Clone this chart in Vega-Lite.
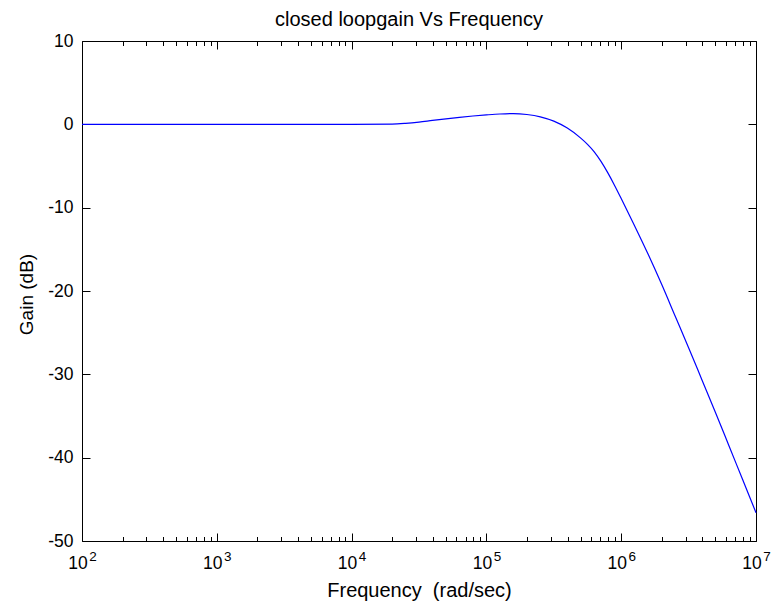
{
  "$schema": "https://vega.github.io/schema/vega-lite/v6.json",
  "width": 674,
  "height": 500,
  "autosize": "none",
  "padding": {"left": 82, "top": 41, "right": 18, "bottom": 66},
  "background": "white",
  "config": {
    "font": "Liberation Sans",
    "view": {"stroke": null},
    "axis": {"grid": false, "domainColor": "#000", "tickColor": "#000", "domainWidth": 1, "tickWidth": 1, "labelFont": "Liberation Sans", "titleFont": "Liberation Sans", "labelColor": "#000", "titleColor": "#000", "titleFontWeight": "normal"}
  },
  "title": {"text": "closed loopgain Vs Frequency", "fontSize": 20, "fontWeight": "normal", "color": "#000", "font": "Liberation Sans", "baseline": "alphabetic", "offset": 12, "dx": -10, "dy": 26},
  "datasets": {
    "curve": [
      {"f": 100, "gain": 0},
      {"f": 1000, "gain": 0},
      {"f": 10000, "gain": 0},
      {"f": 19953, "gain": 0.03},
      {"f": 25119, "gain": 0.12},
      {"f": 31623, "gain": 0.27},
      {"f": 39811, "gain": 0.47},
      {"f": 50119, "gain": 0.66},
      {"f": 63096, "gain": 0.84},
      {"f": 79433, "gain": 1.0},
      {"f": 100000, "gain": 1.13},
      {"f": 125893, "gain": 1.24},
      {"f": 158489, "gain": 1.29},
      {"f": 199526, "gain": 1.18},
      {"f": 251189, "gain": 0.9},
      {"f": 316228, "gain": 0.38},
      {"f": 398107, "gain": -0.45},
      {"f": 501187, "gain": -1.65},
      {"f": 562341, "gain": -2.4},
      {"f": 630957, "gain": -3.3},
      {"f": 707946, "gain": -4.45},
      {"f": 794328, "gain": -5.8},
      {"f": 891251, "gain": -7.3},
      {"f": 1000000, "gain": -8.9},
      {"f": 1258925, "gain": -12.2},
      {"f": 1584893, "gain": -15.6},
      {"f": 1995262, "gain": -19.2},
      {"f": 2511886, "gain": -23.0},
      {"f": 3162278, "gain": -26.8},
      {"f": 3981072, "gain": -30.7},
      {"f": 5011872, "gain": -34.6},
      {"f": 6309573, "gain": -38.6},
      {"f": 7943282, "gain": -42.6},
      {"f": 10000000, "gain": -46.6}
    ],
    "decades": [
      {"f": 100, "e": "2"},
      {"f": 1000, "e": "3"},
      {"f": 10000, "e": "4"},
      {"f": 100000, "e": "5"},
      {"f": 1000000, "e": "6"},
      {"f": 10000000, "e": "7"}
    ]
  },
  "layer": [
    {
      "data": {"name": "curve"},
      "mark": {"type": "line", "color": "#0000ff", "strokeWidth": 1.2, "interpolate": "monotone"},
      "encoding": {
        "x": {
          "field": "f", "type": "quantitative",
          "scale": {"type": "log", "domain": [100, 10000000], "nice": false},
          "axis": {
            "orient": "bottom",
            "values": [100,200,300,400,500,600,700,800,900,1000,2000,3000,4000,5000,6000,7000,8000,9000,10000,20000,30000,40000,50000,60000,70000,80000,90000,100000,200000,300000,400000,500000,600000,700000,800000,900000,1000000,2000000,3000000,4000000,5000000,6000000,7000000,8000000,9000000,10000000],
            "tickSize": {"condition": {"test": "abs(log(datum.value)/LN10 - round(log(datum.value)/LN10)) < 0.001", "value": -8}, "value": -4.5},
            "labels": false,
            "title": "Frequency\u00a0 (rad/sec)",
            "titleFontSize": 20,
            "titleY": 55,
            "titleBaseline": "alphabetic"
          }
        },
        "y": {
          "field": "gain", "type": "quantitative",
          "scale": {"domain": [-50, 10], "nice": false, "zero": false},
          "axis": {
            "orient": "left",
            "values": [-50, -40, -30, -20, -10, 0, 10],
            "labelExpr": "'' + datum.value",
            "tickSize": -8,
            "labelPadding": 17,
            "labelFontSize": 17.5,
            "title": "Gain (dB)",
            "titleFontSize": 19,
            "titleAngle": -90,
            "titleX": -50,
            "titleY": 253,
            "titleAlign": "center",
            "titleBaseline": "alphabetic"
          }
        }
      }
    },
    {
      "data": {"name": "curve"},
      "mark": {"type": "line", "strokeOpacity": 0},
      "encoding": {
        "x": {
          "field": "f", "type": "quantitative",
          "scale": {"type": "log", "domain": [100, 10000000], "nice": false},
          "axis": {
            "orient": "top",
            "values": [100,200,300,400,500,600,700,800,900,1000,2000,3000,4000,5000,6000,7000,8000,9000,10000,20000,30000,40000,50000,60000,70000,80000,90000,100000,200000,300000,400000,500000,600000,700000,800000,900000,1000000,2000000,3000000,4000000,5000000,6000000,7000000,8000000,9000000,10000000],
            "tickSize": {"condition": {"test": "abs(log(datum.value)/LN10 - round(log(datum.value)/LN10)) < 0.001", "value": -8}, "value": -4.5},
            "labels": false,
            "title": null
          }
        },
        "y": {
          "field": "gain", "type": "quantitative",
          "scale": {"domain": [-50, 10], "nice": false, "zero": false},
          "axis": {
            "orient": "right",
            "values": [-50, -40, -30, -20, -10, 0, 10],
            "tickSize": -8,
            "labels": false,
            "title": null
          }
        }
      }
    },
    {
      "data": {"name": "decades"},
      "mark": {"type": "text", "text": "10", "fontSize": 17.5, "align": "center", "baseline": "middle", "dx": -4, "dy": 23, "color": "#000"},
      "encoding": {
        "x": {"field": "f", "type": "quantitative", "axis": null},
        "y": {"datum": -50, "type": "quantitative", "axis": null}
      }
    },
    {
      "data": {"name": "decades"},
      "mark": {"type": "text", "fontSize": 13.5, "align": "center", "baseline": "middle", "dx": 11, "dy": 16, "color": "#000"},
      "encoding": {
        "x": {"field": "f", "type": "quantitative", "axis": null},
        "y": {"datum": -50, "type": "quantitative", "axis": null},
        "text": {"field": "e"}
      }
    }
  ],
  "resolve": {"axis": {"x": "independent", "y": "independent"}}
}
